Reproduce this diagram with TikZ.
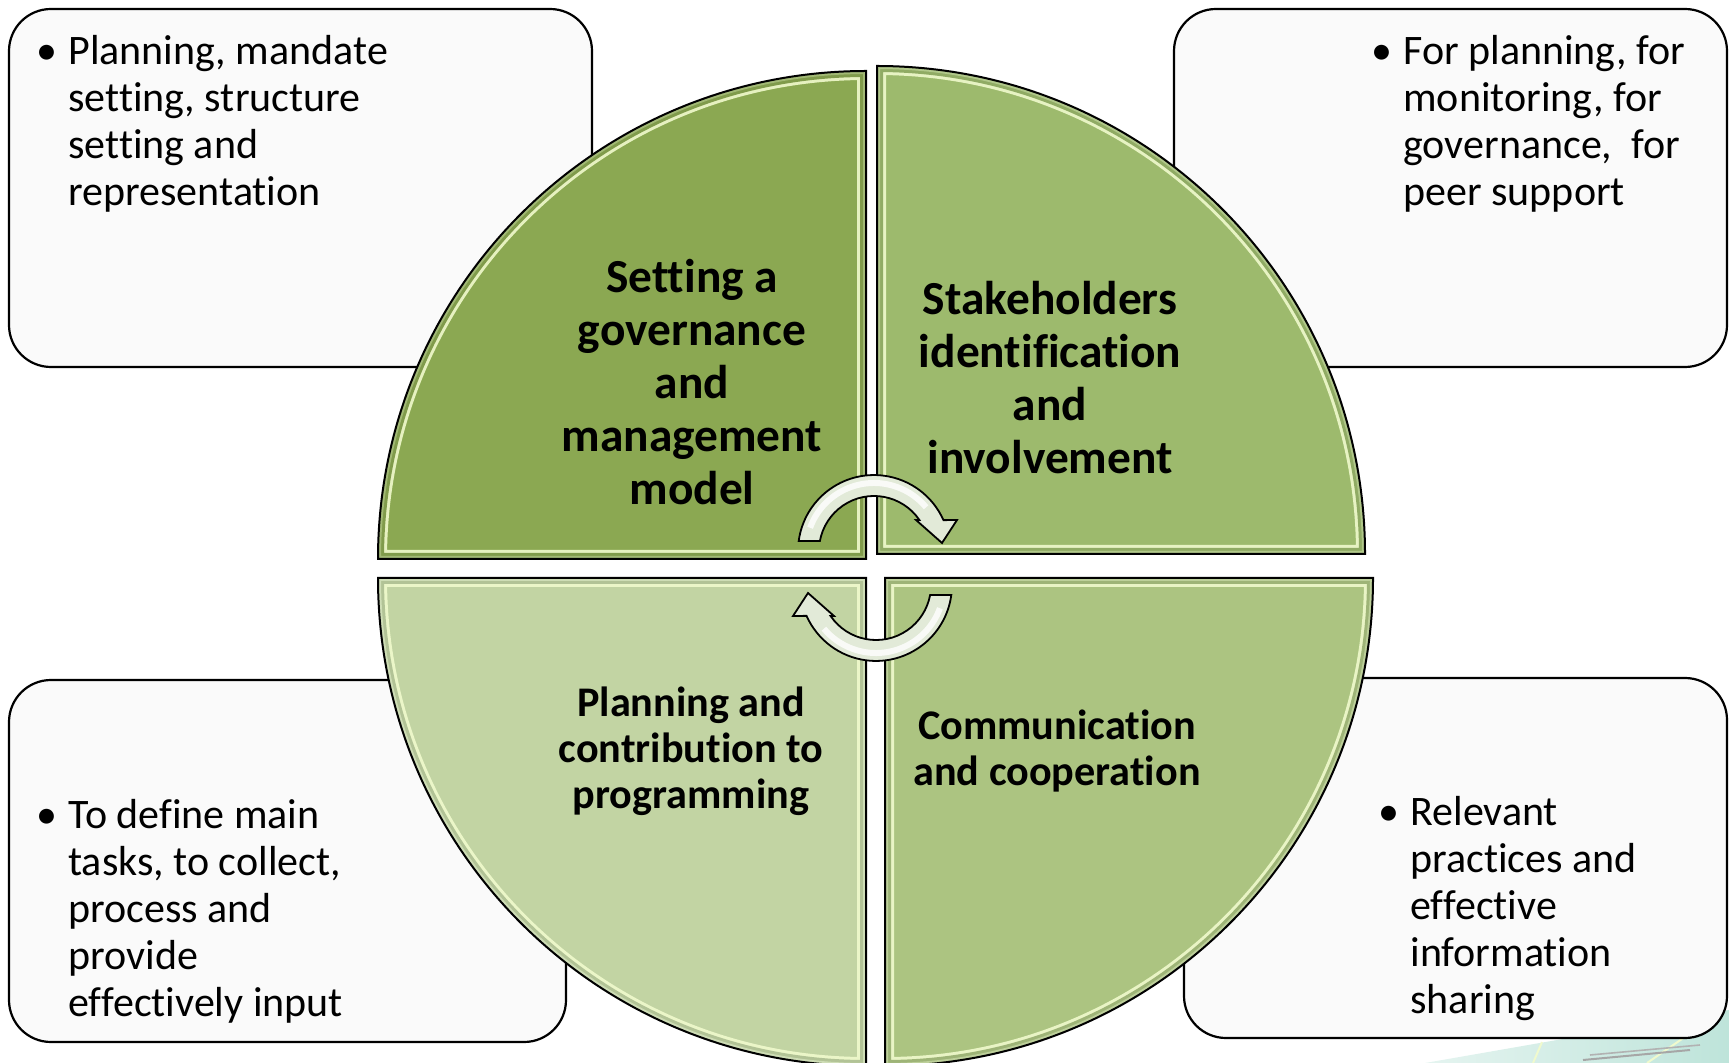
\documentclass[tikz,border=0pt]{standalone}
\usepackage{fontspec}
\setmainfont[Ligatures=NoCommon]{Carlito}
\definecolor{qTLc}{RGB}{139,168,82}
\definecolor{qTRc}{RGB}{157,186,109}
\definecolor{qBLc}{RGB}{194,212,163}
\definecolor{qBRc}{RGB}{172,196,129}
\definecolor{hilite}{RGB}{240,250,205}
\definecolor{boxfill}{RGB}{250,250,250}
\definecolor{arrowc}{RGB}{226,234,216}
\definecolor{tealbg}{RGB}{190,228,218}
\newcommand{\bulletmark}{\makebox[16pt][l]{•}}
\begin{document}
\begin{tikzpicture}[x=0.5pt,y=-0.5pt,
  infobox/.style={draw=black, line width=1.1pt, fill=boxfill, rounded corners=21pt},
  boxtext/.style={inner sep=0pt, font=\fontsize{21}{23.5}\selectfont},
  biglabel/.style={inner sep=0pt, font=\bfseries\fontsize{23.7}{26.5}\selectfont},
  smalllabel/.style={inner sep=0pt, font=\bfseries\fontsize{21.1}{23}\selectfont},
  quadline/.style={draw=black, line width=1pt},
  arrowline/.style={draw=black, line width=0.9pt, fill=arrowc}]
\useasboundingbox (0,0) rectangle (1729,1063);
\clip (0,0) rectangle (1729,1063);

% background decoration bottom right
\shade[left color=tealbg!40!white, right color=tealbg] (1425,1063) -- (1729,1010) -- (1729,1063) -- cycle;
\draw[hilite, line width=1pt] (1533,1063) -- (1542,1042);
\draw[hilite, line width=1pt] (1647,1063) -- (1695,1030);
\draw[gray!70, line width=1pt] (1583,1060) -- (1690,1050);
\draw[gray!60, line width=0.8pt] (1590,1055) -- (1700,1045);

% info boxes
\draw[infobox] (9,9) rectangle (592,367);
\draw[infobox] (1174,9) rectangle (1727,367);
\draw[infobox] (9,680) rectangle (566,1042);
\draw[infobox] (1184,678) rectangle (1727,1038);

% quadrants
\def\qTL{(866,559) -- (378,559) arc[start angle=180,end angle=270,radius=488] -- cycle}
\def\qTR{(877,554) -- (877,66) arc[start angle=270,end angle=360,radius=488] -- cycle}
\def\qBR{(885,578) -- (1373,578) arc[start angle=0,end angle=90,radius=488] -- cycle}
\def\qBL{(866,578) -- (866,1066) arc[start angle=90,end angle=180,radius=488] -- cycle}

\foreach \q/\c in {\qTL/qTLc,\qTR/qTRc,\qBR/qBRc,\qBL/qBLc}{
  \fill[\c] \q;
  \begin{scope}
    \clip \q;
    \draw[hilite, line width=9pt, opacity=0.9] \q;
    \draw[\c!92!black, line width=6pt] \q;
    \draw[\c!80!white, line width=3pt] \q;
  \end{scope}
  \draw[quadline] \q;
}

% circular arrows
\def\toparrow{(798.7,541) arc[start angle=187.6,end angle=336,radius=76] -- (957,520) -- (942,543) -- (916,520) -- (919.4,520) arc[start angle=325.7,end angle=190.5,radius=55] -- cycle}
\fill[arrowc] \toparrow;
\begin{scope}
  \clip \toparrow;
  \draw[white, line width=3pt, opacity=0.8] (874,551) ++(200:68) arc[start angle=200,end angle=320,radius=68];
\end{scope}
\draw[arrowline, fill=none] \toparrow;
\begin{scope}[rotate around={180:(875,568)}]
  \fill[arrowc] \toparrow;
  \begin{scope}
    \clip \toparrow;
    \draw[white, line width=3pt, opacity=0.8] (874,551) ++(200:68) arc[start angle=200,end angle=320,radius=68];
  \end{scope}
  \draw[arrowline, fill=none] \toparrow;
\end{scope}

% quadrant labels
\node[biglabel, anchor=base] (tllabel) at (692,293)
  {\begin{tabular}[t]{@{}c@{}}Setting a\\governance\\and\\management\\model\end{tabular}};
\node[biglabel, anchor=base] (trlabel) at (1050,315)
  {\begin{tabular}[t]{@{}c@{}}Stakeholders\\identification\\and\\involvement\end{tabular}};
\node[smalllabel, anchor=base] (bllabel) at (691,716)
  {\begin{tabular}[t]{@{}c@{}}Planning and\\contribution to\\programming\end{tabular}};
\node[smalllabel, anchor=base] (brlabel) at (1057,739)
  {\begin{tabular}[t]{@{}c@{}}Communication\\and cooperation\end{tabular}};

% box texts
\node[boxtext, anchor=base west] (tltext) at (36,65)
  {\begin{tabular}[t]{@{}l@{}l@{}}\bulletmark & Planning, mandate\\ & setting, structure\\ & setting and\\ & representation\end{tabular}};
\node[boxtext, anchor=base west] (trtext) at (1371,65)
  {\begin{tabular}[t]{@{}l@{}l@{}}\bulletmark & For planning, for\\ & monitoring, for\\ & governance,\ \ for\\ & peer support\end{tabular}};
\node[boxtext, anchor=base west] (bltext) at (36,828)
  {\begin{tabular}[t]{@{}l@{}l@{}}\bulletmark & To define main\\ & tasks, to collect,\\ & process and\\ & provide\\ & effectively input\end{tabular}};
\node[boxtext, anchor=base west] (brtext) at (1378,825)
  {\begin{tabular}[t]{@{}l@{}l@{}}\bulletmark & Relevant\\ & practices and\\ & effective\\ & information\\ & sharing\end{tabular}};
\end{tikzpicture}
\end{document}
